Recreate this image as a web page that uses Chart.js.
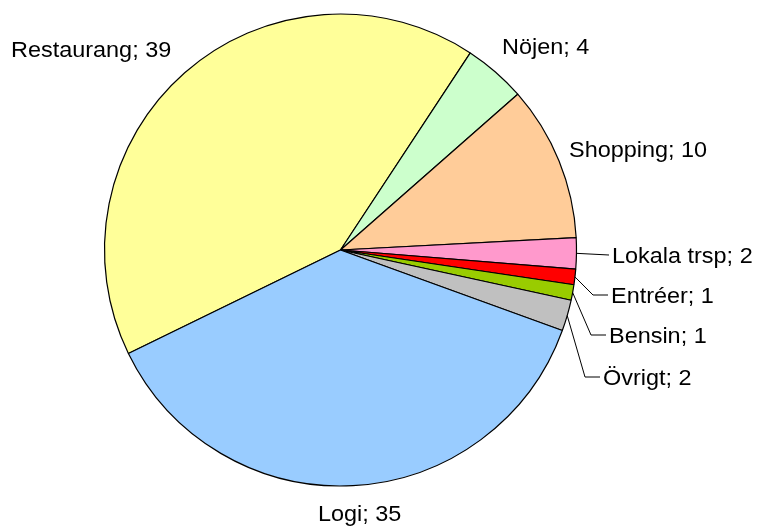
<!DOCTYPE html>
<html>
<head>
<meta charset="utf-8">
<script src="https://cdn.jsdelivr.net/npm/chart.js@4/dist/chart.umd.min.js"></script>
<style>
  html, body { margin: 0; padding: 0; background: #fff; }
  #wrap { position: relative; width: 760px; height: 527px; }
</style>
</head>
<body>
<div id="wrap"><canvas id="kostnader" width="760" height="527"></canvas></div>
<script>
// kostnadsfördelning per kategori
const kategorier = ['Restaurang', 'Nöjen', 'Shopping', 'Lokala trsp', 'Entréer', 'Bensin', 'Övrigt', 'Logi'];
const belopp = [39, 4, 10, 2, 1, 1, 2, 35];
const farger = ['#FFFF99', '#CCFFCC', '#FFCC99', '#FF99CC', '#FF0000', '#99CC00', '#C0C0C0', '#99CCFF'];

// var etiketterna hamnar (vänsterkant, baslinje) och om de behöver hänvisningslinje
const etikettPlats = [
  { x: 11, y: 57, linje: false },
  { x: 502, y: 54, linje: false },
  { x: 569, y: 157, linje: false },
  { x: 612, y: 263, linje: true },
  { x: 611, y: 303, linje: true },
  { x: 609, y: 343, linje: true },
  { x: 603, y: 385, linje: true },
  { x: 318, y: 521, linje: false }
];

const FONT = '22px "Liberation Sans", Arial, sans-serif';
const BREDD = 1.065; // texten är något bredare än standardmåttet

const etiketter = {
  id: 'etiketter',
  afterDatasetsDraw(chart) {
    const ctx = chart.ctx;
    const arcs = chart.getDatasetMeta(0).data;
    ctx.save();
    ctx.font = FONT;
    ctx.fillStyle = '#000';
    ctx.strokeStyle = '#000';
    ctx.lineWidth = 1;
    ctx.textBaseline = 'alphabetic';
    arcs.forEach((arc, i) => {
      const p = etikettPlats[i];
      const { x, y, startAngle, endAngle, outerRadius } = arc.getProps(['x', 'y', 'startAngle', 'endAngle', 'outerRadius'], true);
      if (p.linje) {
        const mid = (startAngle + endAngle) / 2;
        const ex = x + Math.cos(mid) * outerRadius;
        const ey = y + Math.sin(mid) * outerRadius;
        const ly = p.y - 8;
        ctx.beginPath();
        ctx.moveTo(ex, ey);
        if (Math.abs(ly - ey) > 3) ctx.lineTo(p.x - 18, ly);
        ctx.lineTo(p.x - 3, ly);
        ctx.stroke();
      }
      ctx.save();
      ctx.translate(p.x, p.y);
      ctx.scale(BREDD, 1);
      ctx.fillText(kategorier[i] + '; ' + belopp[i], 0, 0);
      ctx.restore();
    });
    ctx.restore();
  }
};

new Chart(document.getElementById('kostnader'), {
  type: 'pie',
  data: {
    labels: kategorier,
    datasets: [{
      data: belopp,
      backgroundColor: farger,
      borderColor: '#000',
      borderWidth: 1.2
    }]
  },
  options: {
    responsive: false,
    animation: false,
    rotation: -116,
    radius: 236,
    layout: { padding: { left: 104.5, right: 183.5, top: 14, bottom: 41 } },
    plugins: {
      legend: { display: false },
      tooltip: { enabled: false }
    }
  },
  plugins: [etiketter]
});
</script>
</body>
</html>
